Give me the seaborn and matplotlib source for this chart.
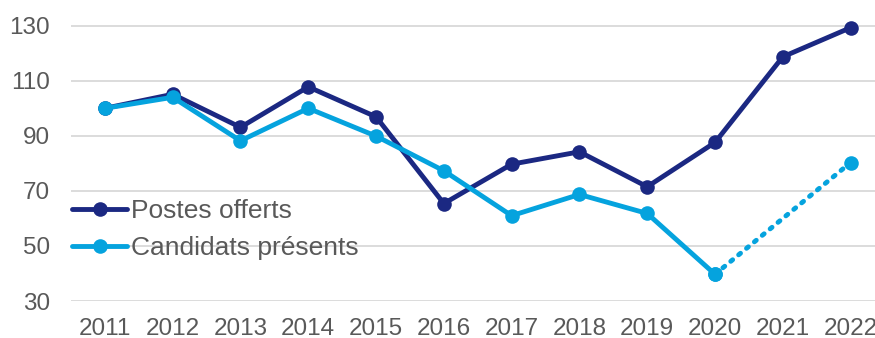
import numpy as np
import pandas as pd
import matplotlib
matplotlib.use("Agg")
import matplotlib.pyplot as plt
import seaborn as sns

years = [2011, 2012, 2013, 2014, 2015, 2016, 2017, 2018, 2019, 2020, 2021, 2022]
postes_offerts = [100, 105.1, 93.1, 107.8, 96.9, 65.4, 79.7, 84.2, 71.5, 87.6, 118.7, 129.3]
candidats_presents = [100, 104, 88.2, 100, 89.9, 77.3, 61, 68.7, 61.8, 39.7, np.nan, 80.3]
y_ticks = [30, 50, 70, 90, 110, 130]

NAVY = "#1b2882"
SKY = "#05a3de"
GREY = "#595959"

sns.set_theme(style="white")
plt.rcParams["font.family"] = ["Liberation Sans", "DejaVu Sans"]

df = pd.DataFrame({"Année": years,
                   "Postes offerts": postes_offerts,
                   "Candidats présents": candidats_presents})

fig = plt.figure(figsize=(8.75, 3.38), dpi=100)
ax = fig.add_axes([71 / 875, 1 - 301 / 338, 1 - 71 / 875, 301 / 338])

line_kw = dict(linewidth=3.5, marker="o", markersize=10.5, markeredgewidth=0)

# Solid series up to the last observed year
sns.lineplot(data=df, x="Année", y="Postes offerts", color=NAVY, ax=ax,
             label="Postes offerts", clip_on=False, **line_kw)
solid = df[df["Année"] <= 2020]
sns.lineplot(data=solid, x="Année", y="Candidats présents", color=SKY, ax=ax,
             label="Candidats présents", clip_on=False, **line_kw)

# 2021 missing for candidates: dotted bridge from 2020 to 2022
gap = df.dropna(subset=["Candidats présents"])
gap = gap[gap["Année"] >= 2020]
sns.lineplot(data=gap, x="Année", y="Candidats présents", color=SKY, ax=ax,
             linewidth=3.5, linestyle=(0, (0.5, 1.6)), dash_capstyle="round",
             marker="o", markersize=10.5, markeredgewidth=0, legend=False,
             clip_on=False)

ax.set_xlim(2010.5, 2022.36)
ax.set_ylim(30, 130 + 25.7 / 2.75)
ax.set_yticks(y_ticks)
ax.set_xticks(years)
ax.set_xticklabels([str(y) for y in years])
ax.set_xlabel("")
ax.set_ylabel("")
ax.grid(axis="y", color="#d9d9d9", linewidth=1.3)
ax.set_axisbelow(True)
for s in ax.spines.values():
    s.set_visible(False)
ax.tick_params(axis="both", length=0, labelsize=17.5, colors=GREY)
ax.tick_params(axis="y", pad=15)
ax.tick_params(axis="x", pad=12)

leg = ax.legend(loc="upper left", bbox_to_anchor=(72 / 875, 1 - 199 / 338),
                bbox_transform=fig.transFigure, frameon=False, fontsize=19,
                handlelength=2.1, handletextpad=0.15, labelspacing=0.5,
                borderpad=0, borderaxespad=0)
for t in leg.get_texts():
    t.set_color(GREY)

fig.savefig("out.png", dpi=100)
